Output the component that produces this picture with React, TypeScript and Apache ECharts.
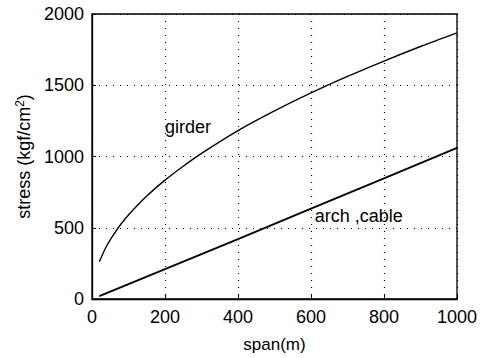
import React, { useEffect, useRef } from "react";
import * as echarts from "echarts";

const girderSpan = [20, 40, 60, 80, 100, 150, 200, 250, 300, 400, 500, 600, 700, 800, 900, 1000];
const girderStress = [262, 372, 456, 528, 590, 722, 834, 932, 1022, 1182, 1320, 1446, 1562, 1670, 1772, 1868];
const archSpan = [20, 200, 400, 600, 800, 1000];
const archStress = [20, 210, 420, 634, 846, 1060];
const xTicks = [0, 200, 400, 600, 800, 1000];
const yTicks = [0, 500, 1000, 1500, 2000];
const labels = [
  { text: "girder", x: 263, y: 1208 },
  { text: "arch ,cable", x: 731, y: 583 },
];

const FONT = "'Liberation Sans', Arial, Helvetica, sans-serif";

export default function App() {
  const ref = useRef<HTMLDivElement>(null);
  useEffect(() => {
    const chart = echarts.init(ref.current!, null, { renderer: "svg" });
    const axisCommon = {
      axisLine: { show: true, lineStyle: { color: "#000", width: 1.3 } },
      axisTick: { show: true, inside: true, length: 4, lineStyle: { color: "#000" } },
      splitLine: { show: true, lineStyle: { color: "#000", type: [1, 6] as any, width: 1.2 } },
      axisLabel: { color: "#000", fontSize: 18, fontFamily: FONT, formatter: (v: number) => String(v) },
      nameTextStyle: { color: "#000", fontSize: 17, fontFamily: FONT },
    };
    chart.setOption({
      animation: false,
      backgroundColor: "#fff",
      grid: { left: 92, right: 31, top: 14, bottom: 56, show: true, borderColor: "#000", borderWidth: 1.3 },
      xAxis: {
        type: "value",
        min: xTicks[0],
        max: xTicks[xTicks.length - 1],
        interval: 200,
        name: "span(m)",
        nameLocation: "middle",
        nameGap: 37,
        ...axisCommon,
        axisLabel: { ...axisCommon.axisLabel, margin: 9 },
      },
      yAxis: {
        type: "value",
        min: yTicks[0],
        max: yTicks[yTicks.length - 1],
        interval: 500,
        name: "stress (kgf/cm{sup|2})",
        nameLocation: "middle",
        nameRotate: 90,
        nameGap: 55,
        ...axisCommon,
        axisLabel: { ...axisCommon.axisLabel, margin: 8 },
        nameTextStyle: {
          ...axisCommon.nameTextStyle,
          fontSize: 18,
          rich: {
            sup: { fontSize: 12, fontFamily: FONT, color: "#000", verticalAlign: "top", padding: [0, 0, 8, 0] },
          },
        },
      },
      series: [
        {
          type: "line",
          data: girderSpan.map((s, i) => [s, girderStress[i]]),
          smooth: 0.3,
          showSymbol: false,
          lineStyle: { color: "#000", width: 1.4 },
        },
        {
          type: "line",
          data: archSpan.map((s, i) => [s, archStress[i]]),
          showSymbol: false,
          lineStyle: { color: "#000", width: 1.8 },
        },
      ],
    });
    const graphics = labels.map((l) => {
      const p = chart.convertToPixel({ gridIndex: 0 }, [l.x, l.y]);
      return {
        type: "text",
        x: p[0],
        y: p[1],
        style: {
          text: l.text,
          fill: "#000",
          font: `18px ${FONT}`,
          textAlign: "center",
          textVerticalAlign: "middle",
        },
      };
    });
    chart.setOption({ graphic: graphics });
    return () => chart.dispose();
  }, []);
  return <div ref={ref} style={{ position: "fixed", left: 0, top: 0, width: 488, height: 358 }} />;
}
